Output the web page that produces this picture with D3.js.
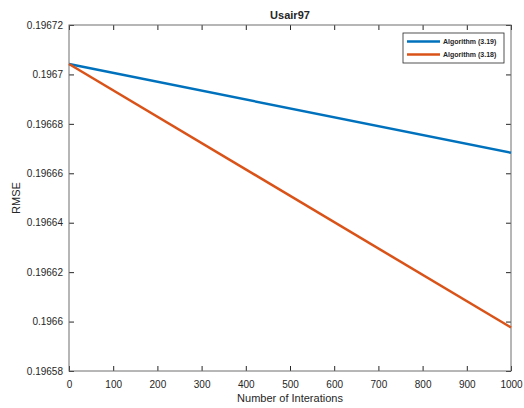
<!DOCTYPE html>
<html>
<head>
<script src="https://d3js.org/d3.v7.min.js"></script>
<style>
  body { margin: 0; background: #fff; }
  text { font-family: "Liberation Sans", Arial, sans-serif; fill: #262626; }
</style>
</head>
<body>
<div id="chart"></div>
<script>
const iterations = [0, 1000];
const alg319 = [0.1967042, 0.1966683];
const alg318 = [0.1967042, 0.1965976];
const seriesNames = ["Algorithm (3.19)", "Algorithm (3.18)"];
const seriesColors = ["#0072BD", "#D95319"];
const xTicks = [0, 100, 200, 300, 400, 500, 600, 700, 800, 900, 1000];
const yTicks = [0.19658, 0.1966, 0.19662, 0.19664, 0.19666, 0.19668, 0.1967, 0.19672];

const W = 524, H = 408;
const margin = {top: 25, right: 13, bottom: 37, left: 69};
const width = W - margin.left - margin.right,
      height = H - margin.top - margin.bottom;

const svg = d3.select("#chart").append("svg")
    .attr("width", W).attr("height", H);
const g = svg.append("g")
    .attr("transform", "translate(" + margin.left + "," + margin.top + ")");

const x = d3.scaleLinear().domain([0, 1000]).range([0, width]);
const y = d3.scaleLinear().domain([0.19658, 0.19672]).range([height, 0]);

const fmt = d => String(+d.toPrecision(6));

// axes, ticks pointing inward
function styleAxis(sel) {
  sel.select(".domain").remove();
  sel.selectAll(".tick line").attr("stroke", "#262626");
  sel.selectAll(".tick text").style("font-size", "10px").attr("fill", "#262626");
}
g.append("g").attr("transform", "translate(0," + height + ")")
  .call(d3.axisBottom(x).tickValues(xTicks).tickSizeInner(-5).tickSizeOuter(0).tickPadding(10).tickFormat(d3.format("d")))
  .call(styleAxis);
g.append("g")
  .call(d3.axisTop(x).tickValues(xTicks).tickSizeInner(-5).tickSizeOuter(0).tickFormat(""))
  .call(styleAxis);
g.append("g")
  .call(d3.axisLeft(y).tickValues(yTicks).tickSizeInner(-5).tickSizeOuter(0).tickPadding(6).tickFormat(fmt))
  .call(styleAxis);
g.append("g").attr("transform", "translate(" + width + ",0)")
  .call(d3.axisRight(y).tickValues(yTicks).tickSizeInner(-5).tickSizeOuter(0).tickFormat(""))
  .call(styleAxis);

// box
g.append("rect").attr("width", width).attr("height", height)
  .attr("fill", "none").attr("stroke", "#6e6e6e").attr("stroke-width", 1);

const line = d3.line().x((d, i) => x(iterations[i])).y(d => y(d));
[alg319, alg318].forEach((vals, i) => {
  g.append("path").datum(vals)
    .attr("fill", "none")
    .attr("stroke", seriesColors[i])
    .attr("stroke-width", 2.5)
    .attr("d", line);
});

// title & labels
svg.append("text").attr("x", margin.left + width / 2).attr("y", 19)
  .attr("text-anchor", "middle").style("font-size", "11px").style("font-weight", "bold")
  .text("Usair97");
svg.append("text").attr("x", margin.left + width / 2).attr("y", 402)
  .attr("text-anchor", "middle").style("font-size", "11px")
  .text("Number of Interations");
svg.append("text").attr("transform", "translate(20," + (margin.top + height / 2) + ") rotate(-90)")
  .attr("text-anchor", "middle").style("font-size", "11px")
  .text("RMSE");

// legend
const lg = svg.append("g").attr("transform", "translate(403,33)");
lg.append("rect").attr("width", 101).attr("height", 30)
  .attr("fill", "#fff").attr("stroke", "#262626").attr("stroke-width", 0.8);
seriesNames.forEach((name, i) => {
  const yy = 8.5 + i * 13;
  lg.append("line").attr("x1", 4).attr("x2", 37).attr("y1", yy).attr("y2", yy)
    .attr("stroke", seriesColors[i]).attr("stroke-width", 2.5);
  lg.append("text").attr("x", 40).attr("y", yy + 2.5)
    .style("font-size", "7px").style("font-weight", "bold").text(name);
});
</script>
</body>
</html>
